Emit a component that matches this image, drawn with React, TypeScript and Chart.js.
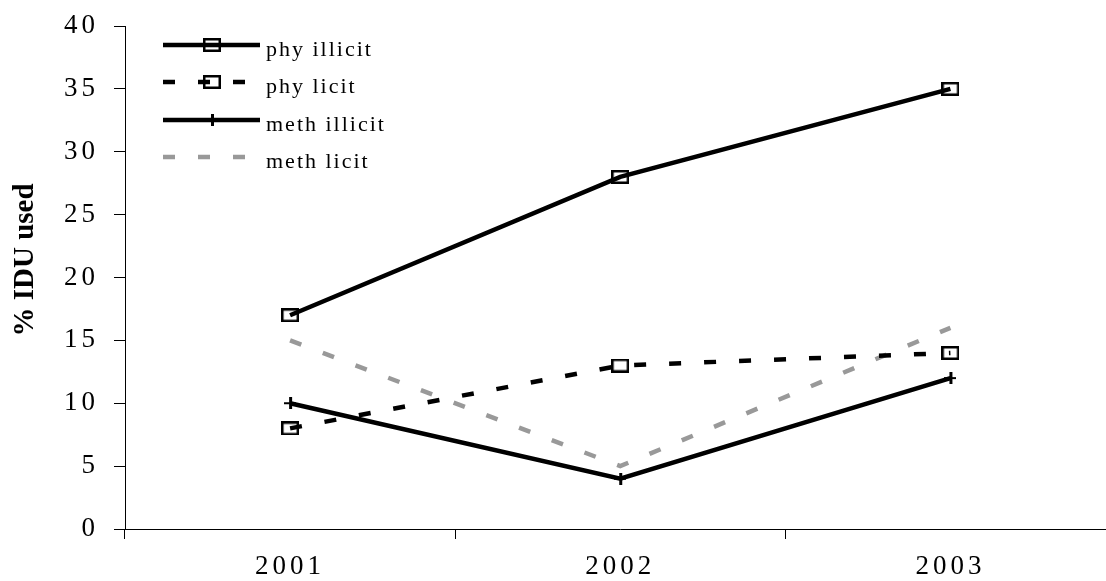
import React, { useEffect, useRef } from "react";
import { Chart, registerables } from "chart.js";

Chart.register(...registerables);

const years = ["2001", "2002", "2003"];
const phyIllicit = [17, 28, 35];
const phyLicit = [8, 13, 14];
const methIllicit = [10, 4, 12];
const methLicit = [15, 5, 16];
const seriesNames = ["phy illicit", "phy licit", "meth illicit", "meth licit"];
const yTitle = "% IDU used";

const FONT = "'Liberation Serif', 'DejaVu Serif', serif";
const DASH = [12, 23];

function makeSquare(): HTMLCanvasElement {
  const c = document.createElement("canvas");
  c.width = 18;
  c.height = 14;
  const ctx = c.getContext("2d")!;
  ctx.strokeStyle = "#000";
  ctx.lineWidth = 2.5;
  ctx.strokeRect(1.25, 1.25, 15.5, 11.5);
  return c;
}

function makeTick(): HTMLCanvasElement {
  const c = document.createElement("canvas");
  c.width = 12;
  c.height = 12;
  const ctx = c.getContext("2d")!;
  ctx.fillStyle = "#000";
  ctx.fillRect(5, 0, 3, 12);
  ctx.fillRect(0, 5, 12, 2);
  return c;
}

export default function App() {
  const ref = useRef<HTMLCanvasElement | null>(null);

  useEffect(() => {
    if (!ref.current) return;
    document.body.style.overflow = "hidden";
    const square = makeSquare();
    const tick = makeTick();

    const styles = [
      { color: "#000", dash: [] as number[], marker: square as HTMLCanvasElement | null },
      { color: "#000", dash: DASH, marker: square as HTMLCanvasElement | null },
      { color: "#000", dash: [] as number[], marker: tick as HTMLCanvasElement | null },
      { color: "#999", dash: DASH, marker: null as HTMLCanvasElement | null },
    ];
    const values = [phyIllicit, phyLicit, methIllicit, methLicit];

    const spacingPlugin = {
      id: "spacing",
      beforeDraw(chart: any) {
        (chart.ctx as any).letterSpacing = "4px";
      },
    };

    const overlayPlugin = {
      id: "overlay",
      afterDraw(chart: any) {
        const ctx: CanvasRenderingContext2D = chart.ctx;
        // Y title
        ctx.save();
        (ctx as any).letterSpacing = "0px";
        ctx.translate(33, 260);
        ctx.rotate(-Math.PI / 2);
        ctx.font = `bold 29px ${FONT}`;
        ctx.fillStyle = "#000";
        ctx.textAlign = "center";
        ctx.textBaseline = "alphabetic";
        ctx.fillText(yTitle, 0, 0);
        ctx.restore();

        // Legend
        const rows = [45, 82, 120, 157];
        seriesNames.forEach((name, i) => {
          const y = rows[i];
          const s = styles[i];
          ctx.save();
          ctx.strokeStyle = s.color;
          ctx.lineWidth = 4.5;
          ctx.setLineDash(s.dash);
          ctx.beginPath();
          ctx.moveTo(163, y);
          ctx.lineTo(260, y);
          ctx.stroke();
          ctx.setLineDash([]);
          if (s.marker) {
            ctx.drawImage(s.marker, 212 - s.marker.width / 2, y - s.marker.height / 2);
          }
          (ctx as any).letterSpacing = "2px";
          ctx.font = `22px ${FONT}`;
          ctx.fillStyle = "#000";
          ctx.textAlign = "left";
          ctx.textBaseline = "alphabetic";
          ctx.fillText(name, 266, y + 11);
          ctx.restore();
        });
      },
    };

    const chart = new Chart(ref.current, {
      type: "line",
      data: {
        labels: years,
        datasets: seriesNames.map((name, i) => ({
          label: name,
          data: values[i],
          borderColor: styles[i].color,
          backgroundColor: "transparent",
          borderWidth: 4.5,
          borderDash: styles[i].dash,
          tension: 0,
          fill: false,
          pointStyle: (styles[i].marker || false) as any,
          pointRadius: styles[i].marker ? 7 : 0,
          pointHoverRadius: styles[i].marker ? 7 : 0,
        })),
      },
      options: {
        responsive: false,
        animation: false,
        events: [],
        layout: { padding: { top: 26, right: 0, left: 0, bottom: 0 } },
        plugins: {
          legend: { display: false },
          tooltip: { enabled: false },
          title: { display: false },
        },
        scales: {
          x: {
            type: "category",
            offset: true,
            border: { display: true, color: "#000", width: 1 },
            grid: {
              offset: true,
              drawOnChartArea: false,
              drawTicks: true,
              tickLength: 10,
              color: "#000",
              lineWidth: 1,
            },
            ticks: {
              color: "#000",
              font: { family: FONT, size: 27 },
              padding: 12,
              maxRotation: 0,
            },
            afterFit(scale: any) {
              scale.height = 52;
              scale.paddingLeft = 0;
              scale.paddingRight = 0;
            },
          },
          y: {
            min: 0,
            max: 40,
            border: { display: true, color: "#000", width: 1 },
            grid: {
              drawOnChartArea: false,
              drawTicks: true,
              tickLength: 11,
              color: "#000",
              lineWidth: 1,
            },
            ticks: {
              stepSize: 5,
              color: "#000",
              font: { family: FONT, size: 27 },
              padding: 15,
            },
            afterFit(scale: any) {
              scale.width = 125;
              scale.paddingTop = 0;
              scale.paddingBottom = 0;
            },
          },
        },
      },
      plugins: [spacingPlugin, overlayPlugin],
    });

    return () => chart.destroy();
  }, []);

  return (
    <div
      style={{
        position: "absolute",
        left: 0,
        top: 0,
        width: 1106,
        height: 581,
        overflow: "hidden",
        background: "#fff",
      }}
    >
      <canvas ref={ref} width={1127} height={581} style={{ display: "block" }} />
    </div>
  );
}
